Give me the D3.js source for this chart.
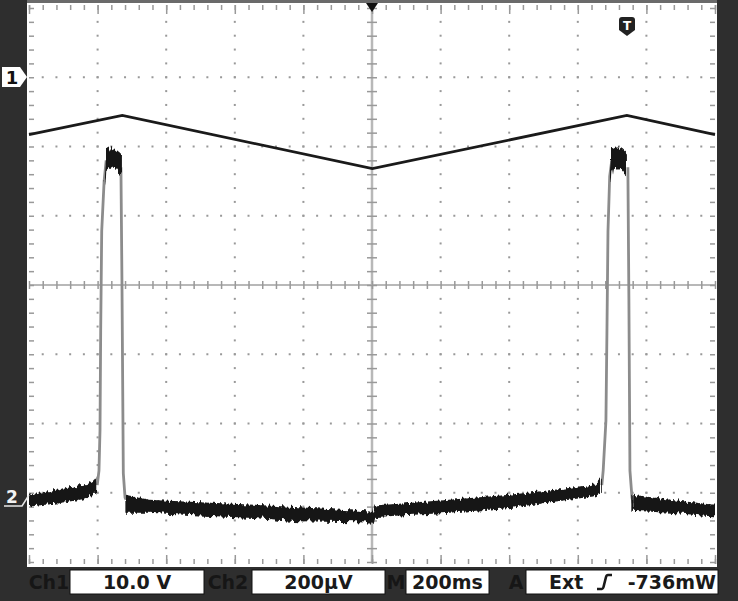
<!DOCTYPE html>
<html>
<head>
<meta charset="utf-8">
<script src="https://cdn.jsdelivr.net/npm/d3@7"></script>
<style>
  html, body { margin: 0; padding: 0; background: #2e2e2e; }
  svg { display: block; }
  .status { font-family: "DejaVu Sans", sans-serif; font-size: 19px; font-weight: bold; }
</style>
</head>
<body>
<div id="scope"></div>
<script>
// frame constants
const FRAME_WIDTH = 738;
const FRAME_HEIGHT = 601;
const PLOT = {left: 29, right: 715, top: 8, bottom: 562};

// time in ms (10 div x 200ms), values in screen divisions (-4..4)
const TIME_TICKS = d3.range(0, 2001, 200);
const TIME_MINOR = d3.range(0, 2001, 40);
const DIV_TICKS = d3.range(-4, 5, 1);
const DIV_MINOR = d3.range(-20, 21, 1).map((d) => d / 5);

// channel 1 triangle wave [ms, div]
const CH1 = [[0, 2.17], [272, 2.45], [1001, 1.68], [1743, 2.45], [2000, 2.17]];

// channel 2 noisy trace as bands [ms, upper, lower]
const CH2_BASE_A = [[0, -3.03, -3.20], [88, -2.95, -3.15], [161, -2.88, -3.09], [190, -2.84, -3.03], [199, -2.78, -3.00]];
const CH2_TOP_A = [[219, 1.60, 1.45], [224, 1.97, 1.65], [232, 2.00, 1.65], [240, 1.93, 1.68], [250, 1.97, 1.68], [260, 1.93, 1.62], [268, 1.90, 1.60]];
const CH2_BASE_B = [[281, -3.03, -3.29], [350, -3.10, -3.29], [467, -3.13, -3.32], [642, -3.17, -3.36], [788, -3.21, -3.41],
  [993, -3.27, -3.43], [1000, -3.29, -3.45], [1004, -3.17, -3.34], [1016, -3.18, -3.35], [1080, -3.16, -3.33],
  [1226, -3.10, -3.29], [1401, -3.03, -3.22], [1547, -2.95, -3.12], [1650, -2.88, -3.05], [1670, -2.78, -3.00]];
const CH2_TOP_B = [[1693, 1.62, 1.45], [1699, 1.97, 1.65], [1710, 2.00, 1.68], [1720, 1.95, 1.66], [1730, 1.98, 1.68], [1740, 1.93, 1.62], [1746, 1.90, 1.60]];
const CH2_BASE_C = [[1759, -3.03, -3.26], [1869, -3.10, -3.29], [1991, -3.17, -3.34], [2000, -3.17, -3.34]];

// channel 2 pulse edges [ms, div]
const CH2_RISE_A = [[199, -2.89], [204, -2.68], [207, -2.10], [209, -0.66], [212, 0.78], [219, 1.50], [225, 1.80]];
const CH2_FALL_A = [[268, 1.70], [271, 0.06], [275, -2.72], [280, -3.07], [283, -3.10]];
const CH2_RISE_B = [[1670, -2.89], [1674, -2.68], [1682, -1.96], [1685, -0.66], [1688, 0.78], [1693, 1.57], [1699, 1.80]];
const CH2_FALL_B = [[1746, 1.70], [1749, -0.23], [1752, -2.68], [1758, -3.07], [1761, -3.15]];

// status bar readouts
const STATUS_LABELS = [{text: "Ch1", x: 49}, {text: "Ch2", x: 228}, {text: "M", x: 396}, {text: "A", x: 516}];
const STATUS_BOXES = [
  {x0: 70, x1: 204, text: "10.0 V"},
  {x0: 252, x1: 385, text: "200µV"},
  {x0: 406, x1: 489, text: "200ms"},
  {x0: 526, x1: 718, text: ""}
];

const SVG = d3.select("#scope")
  .append("svg")
  .attr("width", FRAME_WIDTH)
  .attr("height", FRAME_HEIGHT);

const X_SCALE = d3.scaleLinear().domain([0, 2000]).range([PLOT.left, PLOT.right]);
const Y_SCALE = d3.scaleLinear().domain([-4, 4]).range([PLOT.bottom, PLOT.top]);

// noise texture for the trace
const defs = SVG.append("defs");
const filt = defs.append("filter").attr("id", "grain")
  .attr("x", "-5%").attr("y", "-50%").attr("width", "110%").attr("height", "200%");
filt.append("feTurbulence").attr("type", "fractalNoise").attr("baseFrequency", "0.45 0.02")
  .attr("numOctaves", 1).attr("seed", 3).attr("result", "n");
filt.append("feDisplacementMap").attr("in", "SourceGraphic").attr("in2", "n")
  .attr("scale", 9).attr("xChannelSelector", "R").attr("yChannelSelector", "G");

// screen background
SVG.append("rect")
  .attr("x", 0).attr("y", 0).attr("width", FRAME_WIDTH).attr("height", FRAME_HEIGHT)
  .attr("fill", "#2e2e2e");
SVG.append("rect")
  .attr("x", 27).attr("y", 0).attr("width", 690).attr("height", 567)
  .attr("fill", "#ffffff");
SVG.append("rect")
  .attr("x", 27).attr("y", 0).attr("width", 690).attr("height", 3)
  .attr("fill", "#6a6a6a");

// graticule dots
const DOT = "#999";
TIME_TICKS.slice(1, -1).filter((t) => t !== 1000).forEach((t) => {
  SVG.append("g").selectAll("rect")
    .data(DIV_MINOR.slice(1, -1))
    .enter()
    .append("rect")
    .attr("x", X_SCALE(t) - 1).attr("y", (d) => Y_SCALE(d) - 1)
    .attr("width", 2).attr("height", 2).attr("fill", DOT);
});
DIV_TICKS.slice(1, -1).filter((v) => v !== 0).forEach((v) => {
  SVG.append("g").selectAll("rect")
    .data(TIME_MINOR.slice(1, -1))
    .enter()
    .append("rect")
    .attr("x", (d) => X_SCALE(d) - 1).attr("y", Y_SCALE(v) - 1)
    .attr("width", 2).attr("height", 2).attr("fill", DOT);
});

// center crosshair with ticks
SVG.append("line")
  .attr("x1", X_SCALE(1000)).attr("x2", X_SCALE(1000))
  .attr("y1", PLOT.top).attr("y2", PLOT.bottom)
  .attr("stroke", "#b8b8b8").attr("stroke-width", 2.5);
SVG.append("line")
  .attr("x1", PLOT.left).attr("x2", PLOT.right)
  .attr("y1", Y_SCALE(0)).attr("y2", Y_SCALE(0))
  .attr("stroke", "#b8b8b8").attr("stroke-width", 2);

function tickAxis(axis, tx, ty) {
  const g = SVG.append("g")
    .attr("transform", "translate(" + tx + "," + ty + ")")
    .call(axis);
  g.select(".domain").remove();
  g.selectAll("line").attr("stroke", "#999").attr("stroke-width", 1.5);
  return g;
}
// crosshair ticks
tickAxis(d3.axisBottom(X_SCALE).tickValues(TIME_MINOR).tickSize(8).tickFormat(""), 0, Y_SCALE(0) - 4);
tickAxis(d3.axisRight(Y_SCALE).tickValues(DIV_MINOR).tickSize(10).tickFormat(""), X_SCALE(1000) - 5, 0);
// border ticks
tickAxis(d3.axisBottom(X_SCALE).tickValues(TIME_MINOR).tickSize(5).tickFormat(""), 0, PLOT.top - 3);
tickAxis(d3.axisTop(X_SCALE).tickValues(TIME_MINOR).tickSize(5).tickFormat(""), 0, PLOT.bottom + 2);
tickAxis(d3.axisRight(Y_SCALE).tickValues(DIV_MINOR).tickSize(5).tickFormat(""), PLOT.left, 0);
tickAxis(d3.axisLeft(Y_SCALE).tickValues(DIV_MINOR).tickSize(5).tickFormat(""), PLOT.right, 0);
// longer border ticks at the divisions
tickAxis(d3.axisBottom(X_SCALE).tickValues(TIME_TICKS).tickSize(9).tickFormat(""), 0, PLOT.top - 3);
tickAxis(d3.axisTop(X_SCALE).tickValues(TIME_TICKS).tickSize(9).tickFormat(""), 0, PLOT.bottom + 2);

// channel 1
const LINE = d3.line().x((d) => X_SCALE(d[0])).y((d) => Y_SCALE(d[1]));
SVG.append("path")
  .datum(CH1)
  .attr("d", LINE)
  .attr("fill", "none")
  .attr("stroke", "#1a1a1a")
  .attr("stroke-width", 2.8);

// channel 2 edges
[CH2_RISE_A, CH2_FALL_A, CH2_RISE_B, CH2_FALL_B].forEach((edge) => {
  SVG.append("path")
    .datum(edge)
    .attr("d", LINE)
    .attr("fill", "none")
    .attr("stroke", "#8c8c8c")
    .attr("stroke-width", 2.8);
});

// channel 2 noisy bands
const BAND = d3.area()
  .x((d) => X_SCALE(d[0]))
  .y0((d) => Y_SCALE(d[2]))
  .y1((d) => Y_SCALE(d[1]));
[CH2_BASE_A, CH2_TOP_A, CH2_BASE_B, CH2_TOP_B, CH2_BASE_C].forEach((band) => {
  SVG.append("path")
    .datum(band)
    .attr("d", BAND)
    .attr("fill", "#141414")
    .attr("filter", "url(#grain)");
});

// side strips over the band ends
SVG.append("rect").attr("x", 0).attr("y", 0).attr("width", 27).attr("height", 601).attr("fill", "#2e2e2e");
SVG.append("rect").attr("x", 717).attr("y", 0).attr("width", 21).attr("height", 601).attr("fill", "#2e2e2e");
SVG.append("rect").attr("x", 27).attr("y", 567).attr("width", 690).attr("height", 34).attr("fill", "#2e2e2e");

// trigger position marker at top
SVG.append("path")
  .attr("d", "M" + (X_SCALE(1000) - 6) + ",3 L" + (X_SCALE(1000) + 6) + ",3 L" + X_SCALE(1000) + ",12 Z")
  .attr("fill", "#111");

// trigger level marker "T"
SVG.append("path")
  .attr("d", "M619,20 Q619,17 622,17 L632,17 Q635,17 635,20 L635,30 L627,36 L619,30 Z")
  .attr("fill", "#222");
SVG.append("text")
  .attr("x", 627).attr("y", 30)
  .attr("text-anchor", "middle")
  .attr("font-family", "DejaVu Sans, sans-serif")
  .attr("font-weight", "bold")
  .attr("font-size", 12)
  .attr("fill", "#fff")
  .text("T");

// channel 1 ground marker
SVG.append("path")
  .attr("d", "M2,67 L20,67 L27,77 L20,87 L2,87 Z")
  .attr("fill", "#fff");
SVG.append("text")
  .attr("x", 12).attr("y", 84)
  .attr("text-anchor", "middle")
  .attr("font-family", "DejaVu Sans, sans-serif")
  .attr("font-weight", "bold")
  .attr("font-size", 18)
  .attr("fill", "#111")
  .text("1");

// channel 2 ground marker
SVG.append("text")
  .attr("x", 12).attr("y", 503)
  .attr("text-anchor", "middle")
  .attr("font-family", "DejaVu Sans, sans-serif")
  .attr("font-weight", "bold")
  .attr("font-size", 17)
  .attr("fill", "#f2f2f2")
  .text("2");
SVG.append("path")
  .attr("d", "M4,506 L22,506 L29,495")
  .attr("fill", "none")
  .attr("stroke", "#e8e8e8")
  .attr("stroke-width", 1.5);

// status bar
SVG.append("g").selectAll("text")
  .data(STATUS_LABELS)
  .enter()
  .append("text")
  .attr("class", "status")
  .attr("x", (d) => d.x).attr("y", 589)
  .attr("text-anchor", "middle")
  .attr("fill", "#161616")
  .text((d) => d.text);

SVG.append("g").selectAll("rect")
  .data(STATUS_BOXES)
  .enter()
  .append("rect")
  .attr("x", (d) => d.x0).attr("y", 570)
  .attr("width", (d) => d.x1 - d.x0).attr("height", 24)
  .attr("fill", "#fff").attr("stroke", "#111").attr("stroke-width", 1);

SVG.append("g").selectAll("text")
  .data(STATUS_BOXES.filter((d) => d.text !== ""))
  .enter()
  .append("text")
  .attr("class", "status")
  .attr("x", (d) => (d.x0 + d.x1) / 2).attr("y", 589)
  .attr("text-anchor", "middle")
  .attr("fill", "#1a1a1a")
  .text((d) => d.text);

SVG.append("text").attr("class", "status")
  .attr("x", 549).attr("y", 589).attr("fill", "#1a1a1a").text("Ext");
SVG.append("path")
  .attr("d", "M597,589 L602,589 Q603,589 603.5,587 L606,577 Q606.5,575 608,575 L612,575")
  .attr("fill", "none").attr("stroke", "#1a1a1a").attr("stroke-width", 2.6);
SVG.append("text").attr("class", "status")
  .attr("x", 716).attr("y", 589).attr("text-anchor", "end")
  .attr("fill", "#1a1a1a").text("-736mW");
</script>
</body>
</html>
